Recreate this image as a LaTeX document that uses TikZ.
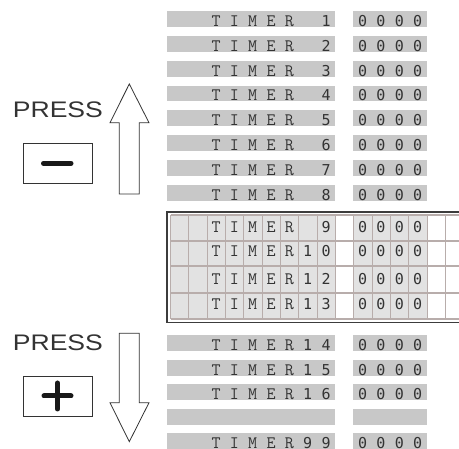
\documentclass[tikz,border=0pt]{standalone}
\usepackage{fontspec}
\setmainfont{Liberation Sans}
\newfontfamily\lcdD{DejaVu Sans Mono}
\newcommand\lcdL{\ttfamily\fontsize{17.5}{17.5}\selectfont\addfontfeature{FakeBold=0.4}}
\newcommand\cc[1]{\makebox[18.33pt]{#1}}
\newcommand\tmr[2]{{\lcdL\cc{T}\cc{I}\cc{M}\cc{E}\cc{R}}\lcdD\cc{#1}\cc{#2}}
\newcommand\zer{\lcdD\cc{0}\cc{0}\cc{0}\cc{0}}
\definecolor{barg}{HTML}{C8C8C8}
\definecolor{cellg}{HTML}{E2E2E2}
\definecolor{gridc}{HTML}{B8ADAB}
\definecolor{ink}{HTML}{333333}
\definecolor{frame}{HTML}{3C3C3C}
\tikzset{
  lcdtxt/.style={anchor=base west, inner sep=0pt, text=ink, font=\fontsize{15}{15}\selectfont},
  press/.style={anchor=base west, inner sep=0pt, text=ink, font=\fontsize{22.5}{22.5}\selectfont},
  btn/.style={draw=ink, line width=0.9pt, anchor=north west, minimum width=69pt, minimum height=40.6pt, inner sep=0pt},
  sign/.style={line width=5pt, line cap=round, draw=black!90},
  bigarrow/.style={draw=ink, line width=0.8pt, fill=white, line join=miter},
  gridln/.style={draw=gridc, line width=1.1pt}
}
\begin{document}
\begin{tikzpicture}[x=1pt, y=-1pt]
\useasboundingbox (0,0) rectangle (459,449);
\clip (0,0) rectangle (459,449);
% ---------- upper list
\foreach \i/\a/\b in {1//1,2//2,3//3,4//4,5//5,6//6,7//7,8//8}{
  \pgfmathsetmacro\yt{11.3+24.8*(\i-1)}
  \fill[barg] (167,\yt) rectangle (335,\yt+15.8);
  \fill[barg] (353.3,\yt) rectangle (426.7,\yt+15.8);
  \node[lcdtxt] (u\i) at (206.7,\yt+15.2) {\tmr{\a}{\b}};
  \node[lcdtxt] (uz\i) at (353.3,\yt+15.2) {\zer};
}
% ---------- lower list
\foreach \i/\yt/\a/\b in {14/335/1/4,15/360/1/5,16/384.5/1/6,99/433.5/9/9}{
  \fill[barg] (167,\yt) rectangle (335,\yt+15.8);
  \fill[barg] (353.3,\yt) rectangle (426.7,\yt+15.8);
  \node[lcdtxt] (l\i) at (206.7,\yt+15.2) {\tmr{\a}{\b}};
  \node[lcdtxt] (lz\i) at (353.3,\yt+15.2) {\zer};
}
\fill[barg] (167,409) rectangle (335,424.8);
\fill[barg] (353.3,409) rectangle (426.7,424.8);
% ---------- LCD window
\fill[white] (167,212) rectangle (470,322.5);
\fill[cellg] (170.5,215) rectangle (335,319);
\fill[cellg] (353.3,215) rectangle (426.7,319);
\foreach \k in {0,...,16}{
  \draw[gridln] (170.5+18.33*\k,215) -- (170.5+18.33*\k,319);
}
\foreach \yy in {215,241,266,293,319}{
  \draw[gridln] (170.5,\yy) -- (470,\yy);
}
\draw[draw=frame, line width=1.6pt] (470,212) -- (167,212) -- (167,322.5) -- (470,322.5);
\node[lcdtxt] (w9) at (206.7,233) {\tmr{}{9}};
\node[lcdtxt] (wz9) at (353.3,233) {\zer};
\node[lcdtxt] (w10) at (206.7,257) {\tmr{1}{0}};
\node[lcdtxt] (wz10) at (353.3,257) {\zer};
\node[lcdtxt] (w12) at (206.7,284.5) {\tmr{1}{2}};
\node[lcdtxt] (wz12) at (353.3,284.5) {\zer};
\node[lcdtxt] (w13) at (206.7,310) {\tmr{1}{3}};
\node[lcdtxt] (wz13) at (353.3,310) {\zer};
% ---------- PRESS minus / up arrow
\node[press] (p1) at (12.7,118) {\scalebox{1.18}[1]{PRESS}};
\node[btn] (minus) at (22.7,142.7) {};
\draw[sign] (43.5,163.3) -- (71,163.3);
\draw[bigarrow] (129.3,84) -- (149,122.7) -- (139.3,122.7) -- (139.3,194)
  -- (119.3,194) -- (119.3,122.7) -- (110,122.7) -- cycle;
% ---------- PRESS plus / down arrow
\node[press] (p2) at (12.7,350.5) {\scalebox{1.18}[1]{PRESS}};
\node[btn] (plus) at (22.7,375.7) {};
\draw[sign] (44,396) -- (71,396);
\draw[sign] (57.5,383) -- (57.5,409);
\draw[bigarrow] (119.3,333.3) -- (139.3,333.3) -- (139.3,402.7) -- (149,402.7)
  -- (129.3,441.7) -- (110,402.7) -- (119.3,402.7) -- cycle;
\end{tikzpicture}
\end{document}
